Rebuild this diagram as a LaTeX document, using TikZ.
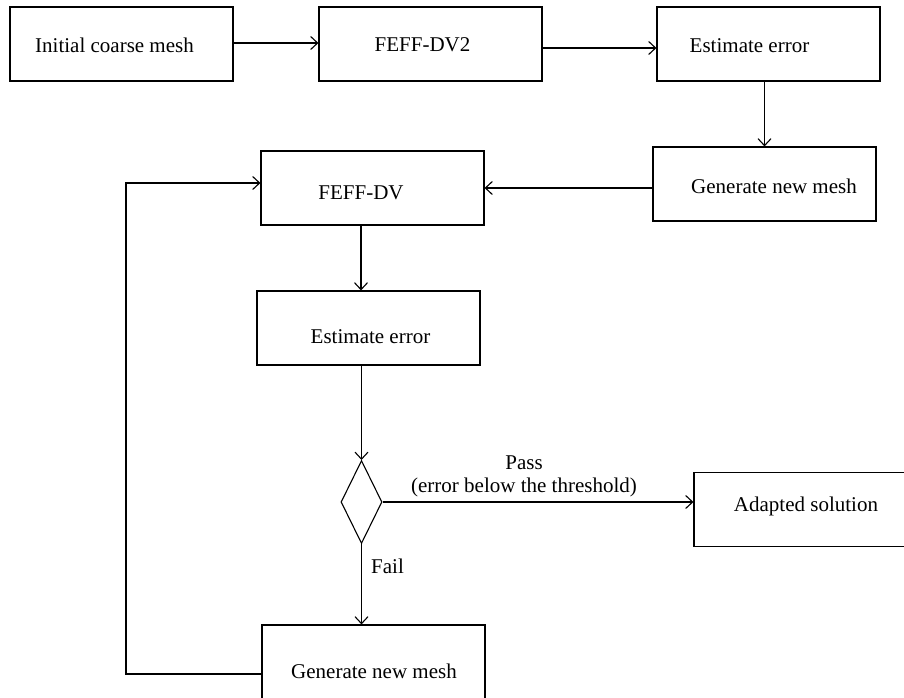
\documentclass[tikz,border=0pt]{standalone}
\usepackage{fontspec}
\setmainfont{Liberation Serif}
\usetikzlibrary{arrows.meta,shapes.geometric}
\begin{document}
\begin{tikzpicture}[x=1bp,y=-1bp,
  box/.style={draw, line width=1.1bp, minimum width=223bp, minimum height=74bp, inner sep=0pt},
  txt/.style={font=\fontsize{21bp}{23bp}\selectfont, inner sep=0pt, anchor=base},
  arr/.style={line width=1.1bp, -{Straight Barb[length=7bp,width=13bp]}},
  ln/.style={line width=1.1bp}]
\useasboundingbox (0,0) rectangle (904,698);
% boxes
\node[box] (b1) at (121.5,44) {};
\node[box] (b2) at (430.5,44) {};
\node[box] (b3) at (768.5,44) {};
\node[box] (g1) at (764.5,184) {};
\node[box] (f)  at (372.5,188) {};
\node[box] (e2) at (368.5,328) {};
\node[draw, line width=1.1bp, diamond, minimum width=41bp, minimum height=83bp, inner sep=0pt] (d) at (361.5,502) {};
\node[box] (a)  at (805.5,509.5) {};
\node[box] (g2) at (373.5,662) {};
% texts
\node[txt] (t1) at (114.5,53) {Initial coarse mesh};
\node[txt] (t2) at (422.5,52) {FEFF-DV2};
\node[txt] (t3) at (749.5,53) {Estimate error};
\node[txt] (t4) at (774,193) {Generate new mesh};
\node[txt] (t5) at (361,199) {FEFF-DV};
\node[txt] (t6) at (370.5,343) {Estimate error};
\node[txt] (t7) at (806,511) {Adapted solution};
\node[txt] (t8) at (374,678) {Generate new mesh};
\node[txt, anchor=base west] (tfail) at (371,573) {Fail};
\node[font=\fontsize{21bp}{23bp}\selectfont, inner sep=0pt, align=center] (tpass) at (524,476.5) {Pass\\(error below the threshold)};
% connectors
\coordinate (colx) at (361,0);
\draw[arr] ([yshift=1bp]b1.east) -- ([yshift=1bp]b2.west);
\draw[arr] ([yshift=-4bp]b2.east) -- ([yshift=-4bp]b3.west);
\draw[arr] (b3.south -| g1) -- (g1.north);
\draw[arr] (g1.west |- f) -- (f.east);
\draw[arr] (f.south -| colx) -- (e2.north -| colx);
\draw[arr] (e2.south -| d) -- (d.north);
\draw[arr] (d.east) -- (d.east -| a.west);
\draw[arr] (d.south) -- (d.south |- g2.north);
\coordinate (lb) at (126,674);
\coordinate (lt) at (126,183);
\draw[arr] (g2.west |- lb) -- (lb) -- (lt) -- (lt -| f.west);
\end{tikzpicture}
\end{document}
